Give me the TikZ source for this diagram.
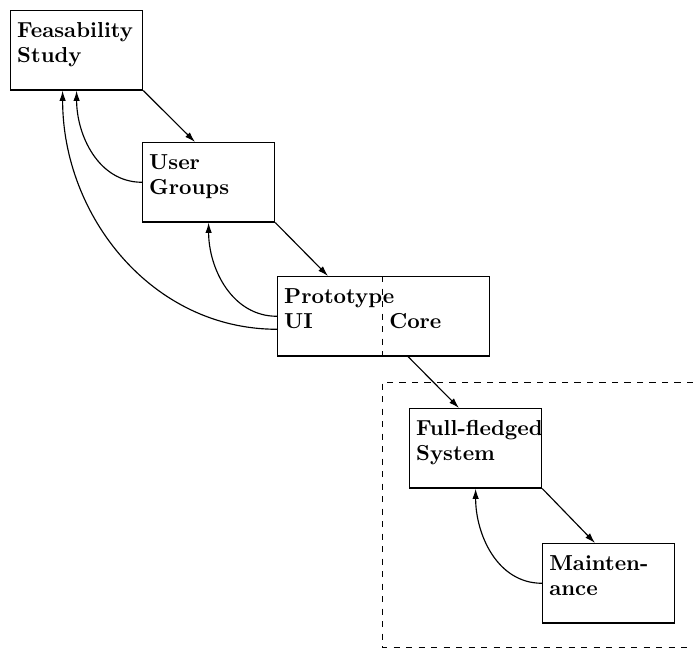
\documentclass[tikz,border=0pt]{standalone}
\usepackage{tikz}
\usetikzlibrary{calc,arrows.meta}

\begin{document}
\begin{tikzpicture}[x=0.48pt, y=-0.48pt, line width=0.55pt,
    >={Latex[length=5pt,width=3.1pt]},
    phase/.style={draw, anchor=north west, font=\fontsize{10.4}{12}\selectfont\bfseries,
      align=left, inner sep=3.2pt, text width=57pt, text height=9.9pt, text depth=21.8pt}]
        \useasboundingbox (0,0) rectangle (693,648);

        \node[phase] (feas)  at (10, 10)   {Feasability\\Study};
        \node[phase] (user)  at (142, 142) {User\\Groups};
        \node[phase, text width=95.4pt] (proto) at (277, 276)
          {Prototype\\\makebox[50.4pt][l]{UI}Core};
        \node[phase] (full)  at (409, 408) {\mbox{Full-fledged}\\System};
        \node[phase] (maint) at (542, 543) {Mainten-\\ance};

        % UI / core split and the final stage
        \draw[dashed, line width=0.45pt] ($(proto.north west)+(105,0)$) -- ($(proto.south west)+(105,0)$);
        \draw[dashed, line width=0.45pt] (693,382) -- (382,382) -- (382,647) -- (693,647);

        \draw[->] (feas.south east) -- ($(user.north west)+(53,0)$);
        \draw[->] (user.south east) -- ($(proto.north west)+(51,0)$);
        \draw[->] ($(proto.south west)+(131,0)$) -- ($(full.north west)+(50,0)$);
        \draw[->] (full.south east) -- ($(maint.north west)+(53,0)$);

        \draw[->] (user.west) to[out=180, in=-90] (feas.south);
        \draw[->] (proto.west) to[out=180, in=-90] (user.south);
        \draw[->] ($(proto.west)+(0,13)$) to[out=180, in=-90] ($(feas.south)+(-14,0)$);
        \draw[->] (maint.west) to[out=180, in=-90] (full.south);
\end{tikzpicture}
\end{document}
